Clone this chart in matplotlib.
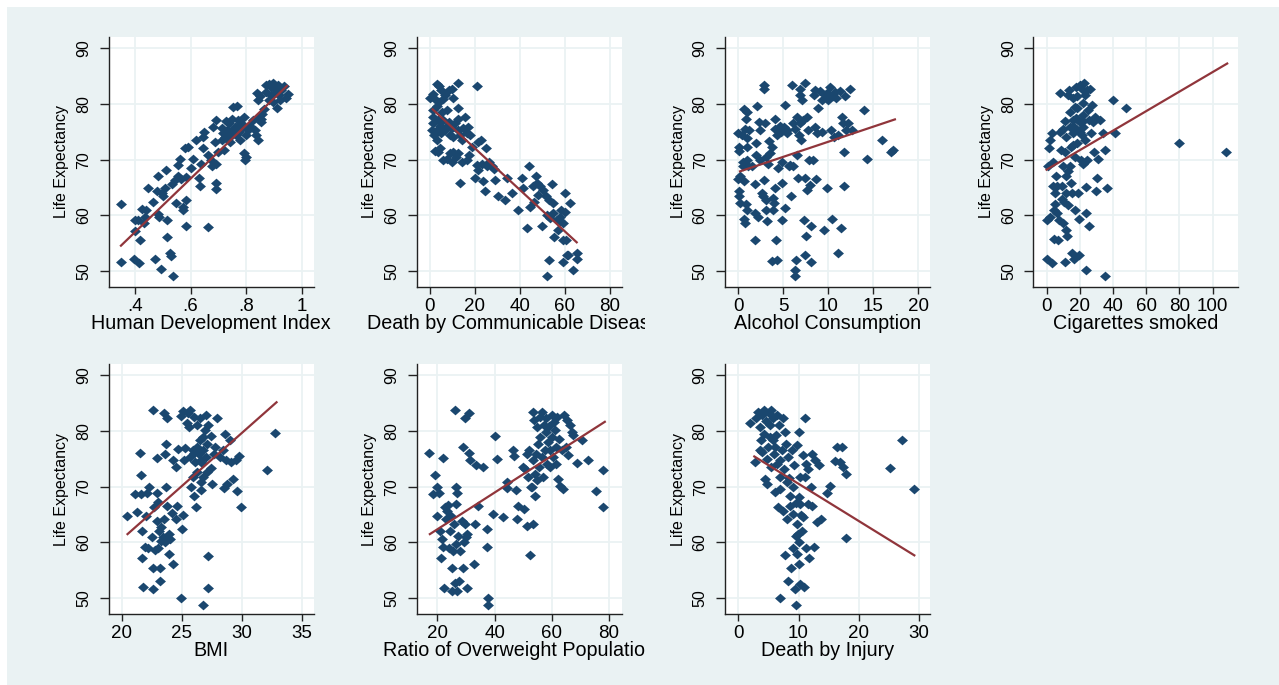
import matplotlib
matplotlib.use("Agg")
import matplotlib.pyplot as plt
from matplotlib.patches import Rectangle
from matplotlib.transforms import Bbox, TransformedBbox

plt.rcParams['font.family'] = ['Liberation Sans', 'DejaVu Sans']

# data: (x, life expectancy) pairs per panel
hdi_pts = [(0.35,62.1),(0.35,51.7),(0.40,57.3),(0.40,59.2),(0.41,59.2),(0.397,52.2),(0.415,51.5),(0.418,55.7),
           (0.424,61.1),(0.432,58.6),(0.44,60.9),(0.448,64.9),(0.436,59.8),(0.472,52.2),(0.466,62.5),(0.484,60.3),
           (0.484,67.1),(0.478,64.3),(0.487,59.7),(0.492,50.4),(0.496,64.0),(0.508,64.9),(0.502,63.4),(0.511,68.2),
           (0.516,59.2),(0.514,56.1),(0.526,53.3),(0.53,52.7),(0.537,49.1),(0.532,65.7),(0.543,66.4),(0.549,62.3),
           (0.555,69.0),(0.555,67.0),(0.561,70.1),(0.567,66.5),(0.573,61.6),(0.573,60.9),(0.583,66.9),(0.585,62.8),
           (0.585,58.2),(0.579,72.0),(0.591,72.3),(0.603,68.5),(0.607,70.1),(0.621,73.6),(0.631,66.7),(0.633,65.2),
           (0.639,69.3),(0.645,72.0),(0.647,75.0),(0.643,74.1),(0.663,70.8),(0.663,57.9),(0.675,69.9),(0.678,68.8),
           (0.687,73.2),(0.69,65.8),(0.693,64.7),(0.693,69.3),(0.699,71.4),(0.693,77.1),(0.681,75.9),(0.711,75.6),
           (0.714,73.6),(0.719,71.8),(0.723,74.1),(0.726,77.0),(0.729,75.3),(0.735,74.7),(0.738,76.5),(0.741,73.2),
           (0.747,75.3),(0.75,77.2),(0.753,79.5),(0.759,75.9),(0.762,74.4),(0.767,79.6),(0.771,77.1),(0.774,75.0),
           (0.776,73.5),(0.782,76.5),(0.786,75.6),(0.791,71.1),(0.794,69.9),(0.80,70.5),(0.798,74.4),(0.791,77.7),
           (0.806,75.3),(0.812,76.0),(0.824,77.1),(0.83,75.3),(0.836,74.4),(0.842,73.5),(0.842,77.7),(0.851,77.2),
           (0.858,78.1),(0.839,82.0),(0.842,80.7),(0.848,81.4),(0.863,79.0),(0.854,76.8),(0.87,82.1),(0.872,83.3),
           (0.882,83.6),(0.89,83.0),(0.896,83.8),(0.902,82.7),(0.908,82.1),(0.914,83.3),(0.918,81.5),(0.926,82.4),
           (0.934,83.2),(0.941,81.0),(0.95,81.7),(0.91,79.3),(0.89,81.5),(0.882,80.7),(0.896,80.4),(0.92,80.7),
           (0.788,76.0),(0.729,73.8),(0.747,74.4),(0.717,74.7),(0.771,76.0)]
hdi_fit = [(0.35, 54.6), (0.946, 83.2)]

comm_pts = [(0,81.1),(1.5,81.8),(3.3,83.5),(4.1,83.2),(4.7,82.4),(2.7,80.7),(4.1,80.4),(5.6,80.8),(6.7,81.5),
            (8.6,82.4),(9.6,82.7),(10.1,81.1),(3.3,79.6),(5.2,78.6),(1.5,78.9),(1.2,77.7),(1.5,76.5),(0.7,75.3),
            (1.8,74.4),(3.0,75.3),(3.7,77.1),(4.4,76.0),(5.9,77.1),(7.4,76.0),(8.6,76.8),(9.6,75.6),(11.1,76.5),
            (12.4,75.3),(12.6,77.2),(13.3,74.4),(14.1,73.5),(14.8,75.6),(15.6,77.7),(16.3,74.7),(17.0,75.9),
            (17.8,74.4),(12.6,83.8),(20.7,83.2),(12.6,79.2),(3.3,73.5),(2.2,71.6),(3.7,71.4),(4.4,72.0),(5.9,69.9),
            (7.4,70.2),(8.9,71.1),(10.4,71.4),(11.6,70.5),(9.6,69.6),(12.6,71.2),(13.3,65.8),(14.1,69.5),(16.3,69.9),
            (17.5,70.8),(18.5,72.3),(20.0,66.7),(20.7,69.0),(21.5,68.2),(21.5,73.2),(22.5,73.6),(23.0,69.3),
            (23.7,66.1),(24.4,64.3),(24.9,72.0),(25.2,68.8),(26.4,69.6),(27.4,68.8),(28.4,68.3),(28.9,66.4),
            (30.4,63.4),(33.3,62.8),(34.1,66.7),(36.3,64.0),(39.3,60.9),(40.7,66.7),(41.5,64.9),(43.0,57.7),
            (44.1,68.8),(44.4,61.6),(45.6,65.2),(46.2,62.5),(47.1,67.0),(47.4,65.8),(48.1,63.7),(48.9,65.2),
            (50.1,64.6),(49.6,58.2),(51.6,63.4),(51.9,60.1),(52.1,49.2),(53.0,62.8),(53.0,52.1),(53.3,59.5),
            (54.1,65.7),(54.5,62.3),(54.8,60.5),(55.1,56.2),(56.3,59.2),(57.0,57.4),(57.8,59.1),(58.1,61.0),
            (59.0,58.6),(59.3,55.7),(59.3,51.6),(60.0,64.1),(60.0,60.7),(60.4,55.7),(61.0,53.0),(62.2,62.2),
            (63.4,50.3),(65.2,53.3),(65.2,52.2),(61.5,53.0),(57.8,59.8),(6.7,75.3),(8.9,74.4),(10.4,74.1),
            (4.7,74.7),(7.4,78.9)]
comm_fit = [(1.2, 79.0), (65.2, 55.2)]

alc_pts = [(0,74.7),(0.1,72.3),(0.1,71.6),(0,66.5),(0.2,67.0),(0.1,64.3),(0.1,63.5),(0.2,62.2),(0.4,74.4),
           (0.5,69.6),(0.5,68.9),(0.6,66.1),(0.6,79.0),(0.6,59.3),(0.7,75.4),(0.7,58.6),(0.9,62.1),(0.9,77.2),
           (1.0,78.6),(1.0,73.8),(1.0,69.9),(1.0,72.3),(1.0,60.9),(1.2,75.3),(1.1,68.8),(1.5,68.8),(1.9,55.7),
           (1.9,65.7),(1.9,60.4),(2.0,73.0),(2.0,70.8),(2.1,79.6),(2.2,59.8),(2.3,76.8),(2.4,69.9),(2.4,75.3),
           (2.6,64.0),(2.7,63.4),(2.8,83.3),(2.9,82.7),(2.9,66.4),(3.0,76.5),(3.1,70.5),(3.1,62.8),(3.1,60.9),
           (3.2,59.1),(3.3,69.2),(3.4,73.4),(3.5,71.1),(3.7,51.8),(3.7,72.2),(3.8,63.1),(3.9,60.9),(4.0,62.3),
           (4.1,77.2),(4.1,75.4),(4.1,64.9),(4.2,55.7),(4.3,52.1),(4.3,74.4),(4.4,68.5),(4.6,76.0),(4.7,75.0),
           (4.8,65.8),(4.8,69.6),(4.9,59.2),(5.1,75.8),(5.2,79.8),(5.2,61.3),(5.4,74.7),(5.4,75.3),(5.6,68.8),
           (5.7,69.0),(5.9,63.4),(6.0,83.3),(6.1,76.5),(6.1,68.9),(6.3,75.4),(6.3,50.3),(6.3,49.1),(6.4,52.1),
           (6.5,77.7),(6.5,70.8),(6.6,66.7),(6.7,74.4),(6.8,82.7),(6.9,81.5),(6.9,76.5),(7.0,73.5),(7.1,80.7),
           (7.2,77.1),(7.3,59.2),(7.4,83.8),(7.4,53.0),(7.4,66.7),(7.5,56.3),(7.6,64.6),(7.6,77.7),(7.7,75.3),
           (7.9,69.9),(8.0,65.5),(8.1,51.6),(8.1,58.2),(8.3,69.9),(8.4,81.5),(8.5,75.9),(8.5,82.4),(8.6,66.5),
           (8.7,74.7),(8.9,79.3),(9.1,82.3),(9.3,80.7),(9.3,75.0),(9.5,57.4),(9.6,81.5),(9.8,64.9),(9.8,82.0),
           (10.0,80.7),(10.2,83.0),(10.3,75.3),(10.4,59.3),(10.5,81.4),(10.6,74.1),(10.7,82.1),(10.9,81.0),
           (11.1,53.3),(11.1,74.4),(11.3,82.3),(11.4,57.7),(11.5,77.7),(11.6,76.5),(11.7,71.3),(11.7,65.2),
           (11.9,81.3),(12.0,75.3),(12.2,76.5),(12.4,82.6),(12.6,75.3),(14.0,78.9),(14.3,70.2),(16.0,73.6),
           (17.0,71.4),(17.2,71.8)]
alc_fit = [(0.19, 67.9), (17.4, 77.2)]

cig_pts = [(0,52.2),(3.0,51.5),(0.4,59.2),(2.0,59.8),(1.0,68.8),(1.6,72.0),(2.0,73.5),(3.0,74.8),(3.6,69.6),
           (4.0,65.2),(4.4,60.9),(5.0,64.0),(5.6,67.0),(4.4,55.8),(7.0,55.7),(6.4,60.4),(7.6,59.2),(8.0,82.0),
           (8.0,75.0),(8.4,71.7),(9.0,65.2),(9.6,58.6),(10.0,68.8),(10.6,62.5),(11.0,77.0),(11.0,51.6),(11.6,57.4),
           (12.0,74.1),(12.0,67.0),(12.4,56.3),(13.1,81.5),(13.1,61.9),(13.7,82.4),(14.1,78.6),(14.1,75.9),
           (14.5,72.3),(14.5,65.8),(15.1,53.3),(15.1,64.0),(15.7,81.0),(16.1,77.1),(16.1,74.7),(16.5,52.2),
           (17.1,60.9),(17.1,70.5),(17.7,83.0),(18.1,79.2),(18.1,75.3),(18.5,81.3),(18.5,72.9),(19.1,64.0),
           (19.7,59.3),(19.7,53.0),(20.1,83.3),(20.1,76.8),(20.5,69.9),(21.1,82.6),(21.1,74.4),(21.7,80.1),
           (22.1,78.0),(22.1,75.9),(22.1,69.2),(22.5,83.8),(23.1,81.5),(23.1,73.5),(23.7,50.3),(23.7,60.4),
           (23.7,65.1),(24.1,82.4),(24.5,69.9),(25.1,78.9),(25.7,77.1),(25.7,58.2),(26.1,82.6),(26.5,74.7),
           (27.1,79.8),(28.1,76.8),(28.5,71.4),(29.1,77.7),(29.7,64.3),(30.5,66.7),(31.1,70.1),(32.1,77.1),
           (33.7,74.7),(35.1,49.1),(35.1,71.8),(36.1,64.9),(39.8,80.7),(41.2,74.7),(47.8,79.2),(79.9,73.0),
           (108.0,71.3),(19.1,77.1),(17.1,79.5),(15.7,72.6),(13.1,67.9),(11.0,71.4),(14.1,68.8),(6.4,65.2),
           (9.0,63.0),(5.0,62.0),(12.0,64.0),(16.0,76.0),(20.0,75.0),(18.0,77.5),(22.0,77.0),(10.0,75.5)]
cig_fit = [(0, 68.2), (108.8, 87.2)]

bmi_pts = [(20.4,64.8),(21.1,68.7),(21.3,65.4),(21.5,76.0),(21.6,72.0),(21.6,68.6),(21.7,62.0),(21.7,57.3),
           (21.8,52.0),(21.9,59.2),(22.0,64.8),(22.1,68.8),(22.2,59.1),(22.3,70.0),(22.5,60.9),(22.6,55.4),
           (22.6,83.8),(22.6,51.6),(22.7,66.3),(22.8,58.6),(22.9,63.9),(22.9,75.2),(22.9,68.8),(23.0,67.2),
           (23.1,62.1),(23.2,53.1),(23.2,55.4),(23.3,62.8),(23.3,60.3),(23.5,83.2),(23.5,64.2),(23.6,60.0),
           (23.6,75.9),(23.7,77.6),(23.7,69.9),(23.8,82.2),(23.8,66.6),(23.9,61.6),(23.9,58.0),(24.0,60.6),
           (24.2,65.2),(24.3,74.8),(24.3,56.1),(24.5,73.6),(24.5,64.2),(24.6,66.6),(24.7,76.8),(24.9,50.1),
           (24.9,82.6),(25.0,62.4),(25.1,65.0),(25.1,83.6),(25.2,74.7),(25.3,77.0),(25.4,81.4),(25.5,83.2),
           (25.6,80.6),(25.7,75.3),(25.7,83.8),(25.8,69.9),(25.9,76.5),(25.9,71.7),(26.0,82.5),(26.0,68.4),
           (26.1,74.4),(26.2,66.3),(26.3,81.0),(26.3,72.6),(26.4,75.9),(26.5,78.3),(26.5,82.2),(26.6,70.8),
           (26.6,69.4),(26.7,74.2),(26.8,48.9),(26.8,76.5),(26.8,71.8),(26.9,80.1),(27.0,82.8),(27.0,75.3),
           (27.1,77.7),(27.1,72.6),(27.2,57.6),(27.2,51.9),(27.2,81.0),(27.4,79.0),(27.4,73.4),(27.5,70.5),
           (27.7,75.9),(27.8,77.1),(27.9,82.2),(28.2,75.3),(28.4,76.6),(28.5,69.8),(28.6,79.4),(28.7,74.7),
           (28.8,70.4),(29.0,78.4),(29.1,74.4),(29.3,71.4),(29.5,74.8),(29.6,69.3),(29.8,75.4),(29.9,66.3),
           (32.1,73.0),(32.8,79.6),(26.6,74.7),(26.3,77.1),(26.8,78.8),(23.4,61.0),(23.0,59.0),(26.0,76.0)]
bmi_fit = [(20.47, 61.5), (32.9, 85.1)]

ovw_pts = [(17.2,76.0),(19.2,72.0),(18.4,68.6),(20.0,70.0),(20.0,64.8),(20.7,68.8),(20.9,62.1),(21.2,57.3),
           (21.5,60.6),(21.9,59.2),(22.1,75.2),(22.3,51.9),(22.7,66.3),(23.0,64.2),(23.3,65.7),(23.8,66.8),
           (24.2,59.1),(24.4,62.1),(24.7,64.8),(25.0,51.3),(25.3,55.5),(25.6,58.5),(25.8,63.3),(26.2,83.8),
           (26.2,52.8),(26.5,69.9),(26.5,66.9),(26.7,59.7),(27.0,51.3),(27.0,68.8),(27.3,61.2),(27.7,53.1),
           (27.9,58.5),(28.5,63.8),(28.8,55.5),(29.1,77.1),(29.3,60.0),(29.7,82.2),(29.7,63.3),(30.0,60.9),
           (30.2,51.9),(30.5,61.6),(31.2,83.2),(31.2,76.0),(31.4,74.7),(33.1,63.3),(32.8,56.1),(33.5,73.8),
           (34.3,66.6),(35.8,73.5),(37.2,59.2),(37.4,62.4),(37.8,50.1),(37.8,48.9),(39.3,65.1),(40.1,79.0),
           (40.9,75.0),(42.8,64.5),(44.2,70.8),(44.4,69.8),(46.5,76.5),(46.7,75.4),(47.4,69.4),(47.7,64.2),
           (48.3,66.6),(49.8,73.6),(50.2,66.0),(50.6,73.2),(51.2,75.9),(51.4,63.0),(51.7,71.8),(52.1,76.5),
           (52.3,57.8),(52.6,70.0),(52.9,69.9),(53.3,83.4),(53.3,63.3),(53.5,74.7),(53.7,81.9),(54.1,68.4),
           (54.1,72.3),(54.4,75.9),(54.7,80.7),(54.9,71.1),(55.2,77.7),(55.6,73.5),(55.8,82.5),(56.0,78.9),
           (56.4,75.3),(56.7,83.4),(56.9,71.7),(57.2,81.0),(57.6,76.5),(57.9,79.8),(58.1,82.2),(58.4,74.1),
           (58.7,78.0),(59.1,80.8),(59.3,73.5),(59.5,76.5),(59.9,82.8),(60.2,78.8),(60.5,75.3),(60.7,81.6),
           (61.0,80.1),(61.4,77.1),(61.6,74.1),(61.9,82.5),(62.2,71.4),(62.6,78.6),(62.8,70.2),(63.4,76.5),
           (64.0,69.6),(64.2,82.8),(64.9,77.1),(65.3,81.9),(65.7,75.6),(66.3,81.0),(67.2,79.8),(67.4,79.2),
           (68.8,74.2),(70.7,78.3),(72.7,74.7),(75.3,69.3),(77.9,73.0),(77.9,66.3)]
ovw_fit = [(17.4, 61.5), (78.5, 81.6)]

inj_pts = [(2.0,81.3),(2.8,74.4),(3.0,82.2),(3.3,83.4),(3.6,80.7),(3.7,78.4),(3.9,82.8),(4.0,76.2),(4.2,83.8),
           (4.3,79.5),(4.4,71.4),(4.6,81.8),(4.7,75.0),(4.8,70.5),(5.0,77.1),(5.1,83.2),(5.3,81.0),(5.4,83.8),
           (5.5,73.5),(5.7,82.2),(5.8,78.3),(5.9,75.9),(6.1,69.0),(6.3,79.2),(6.4,82.8),(6.5,74.1),(6.6,66.3),
           (6.8,81.0),(6.9,71.7),(7.0,50.1),(7.2,76.5),(7.4,82.2),(7.5,65.7),(7.6,73.2),(7.7,57.8),(7.7,79.8),
           (7.9,77.6),(8.0,70.8),(8.1,64.2),(8.3,53.1),(8.3,75.3),(8.5,66.6),(8.6,68.4),(8.7,55.5),(8.9,76.5),
           (9.0,69.9),(9.1,65.1),(9.1,59.1),(9.2,73.8),(9.4,51.6),(9.6,48.9),(9.6,61.2),(9.7,63.3),(9.7,57.9),
           (9.8,77.4),(10.0,79.8),(10.0,68.1),(10.1,56.1),(10.1,60.0),(10.2,71.7),(10.2,52.5),(10.3,66.9),
           (10.5,62.1),(10.7,75.6),(10.8,64.5),(10.9,52.0),(11.1,82.2),(11.1,71.7),(11.2,59.1),(11.3,74.1),
           (11.5,73.2),(11.6,66.9),(11.8,57.2),(12.0,69.9),(12.2,66.6),(12.3,75.9),(12.6,59.2),(12.7,74.7),
           (13.0,63.6),(13.4,73.8),(13.8,64.2),(14.7,68.8),(15.2,70.2),(16.0,74.6),(16.3,77.1),(16.9,74.4),
           (17.2,77.1),(17.3,73.5),(17.9,72.2),(17.9,60.8),(25.2,73.4),(27.1,78.3),(29.1,69.6),(3.6,76.5),
           (5.3,78.9),(6.1,77.1),(6.9,74.7),(9.5,67.0),(10.4,65.0),(9.9,61.5),(8.4,71.5),(7.0,69.5)]
inj_fit = [(2.66, 75.4), (29.2, 57.7)]

hdi_ticks = [0.4, 0.6, 0.8, 1.0]
hdi_ticklabels = ['.4', '.6', '.8', '1']

panels = [
    (hdi_pts, hdi_fit, (0.306, 1.042), hdi_ticks, hdi_ticklabels, 'Human Development Index'),
    (comm_pts, comm_fit, (-5.9, 85.2), [0, 20, 40, 60, 80], None, 'Death by Communicable Diseases'),
    (alc_pts, alc_fit, (-1.48, 21.3), [0, 5, 10, 15, 20], None, 'Alcohol Consumption'),
    (cig_pts, cig_fit, (-8.0, 115.5), [0, 20, 40, 60, 80, 100], None, 'Cigarettes smoked'),
    (bmi_pts, bmi_fit, (18.9, 36.0), [20, 25, 30, 35], None, 'BMI'),
    (ovw_pts, ovw_fit, (12.8, 84.4), [20, 40, 60, 80], None, 'Ratio of Overweight Population'),
    (inj_pts, inj_fit, (-2.2, 31.8), [0, 10, 20, 30], None, 'Death by Injury'),
]

W, H = 1279, 685
bg = '#eaf2f3'
navy = '#1a476f'
maroon = '#90353b'

fig = plt.figure(figsize=(W / 100, H / 100), dpi=100)
fig.patch.set_facecolor('white')
fig.add_artist(Rectangle((7 / W, 0), 1 - 7 / W, 1 - 7 / H, transform=fig.transFigure,
                         facecolor=bg, edgecolor='none', zorder=0))

lefts = [108.7, 416.7, 725, 1033.3]
tops = [37, 364]
col_clip = [(22, 333), (333, 645), (645, 955), (955, 1266)]
diamond = [(-1.12, 0), (0, 1), (1.12, 0), (0, -1)]

for i, (pts, fit, xlim, xticks, xtl, xlabel) in enumerate(panels):
    row, col = divmod(i, 4)
    ax = fig.add_axes([lefts[col] / W, (H - tops[row] - 250) / H, 205 / W, 250 / H])
    ax.set_facecolor('white')
    xs = [p[0] for p in pts]
    ys = [p[1] for p in pts]
    ax.scatter(xs, ys, marker=diamond, s=62, color=navy, linewidths=0, zorder=3)
    ax.plot([f[0] for f in fit], [f[1] for f in fit], color=maroon, lw=1.6, zorder=4)

    ax.set_xlim(*xlim)
    ax.set_ylim(47.2, 91.95)
    ax.set_xticks(xticks)
    if xtl:
        ax.set_xticklabels(xtl)
    ax.set_yticks([50, 60, 70, 80, 90])
    ax.grid(True, color=bg, lw=1.3, zorder=0)
    ax.set_axisbelow(True)
    for s in ['top', 'right']:
        ax.spines[s].set_visible(False)
    for s in ['left', 'bottom']:
        ax.spines[s].set_color('#222222')
        ax.spines[s].set_linewidth(1.0)
    ax.tick_params(axis='y', labelrotation=90, length=6.5, width=1, color='#222222',
                   labelsize=11.5, pad=6)
    for lab in ax.get_yticklabels():
        lab.set_va('center')
    ax.tick_params(axis='x', length=5, width=1, color='#222222', labelsize=13.5, pad=3)
    ax.set_ylabel('Life Expectancy', fontsize=11.5, labelpad=5)
    ax.set_xlabel(xlabel, fontsize=14.2, labelpad=-1)

    cx0, cx1 = col_clip[col]
    ax.xaxis.label.set_clip_box(TransformedBbox(Bbox([[cx0 / W, 0], [cx1 / W, 1]]), fig.transFigure))
    ax.xaxis.label.set_clip_on(True)

fig.savefig('out.png', dpi=100, facecolor=fig.get_facecolor())
